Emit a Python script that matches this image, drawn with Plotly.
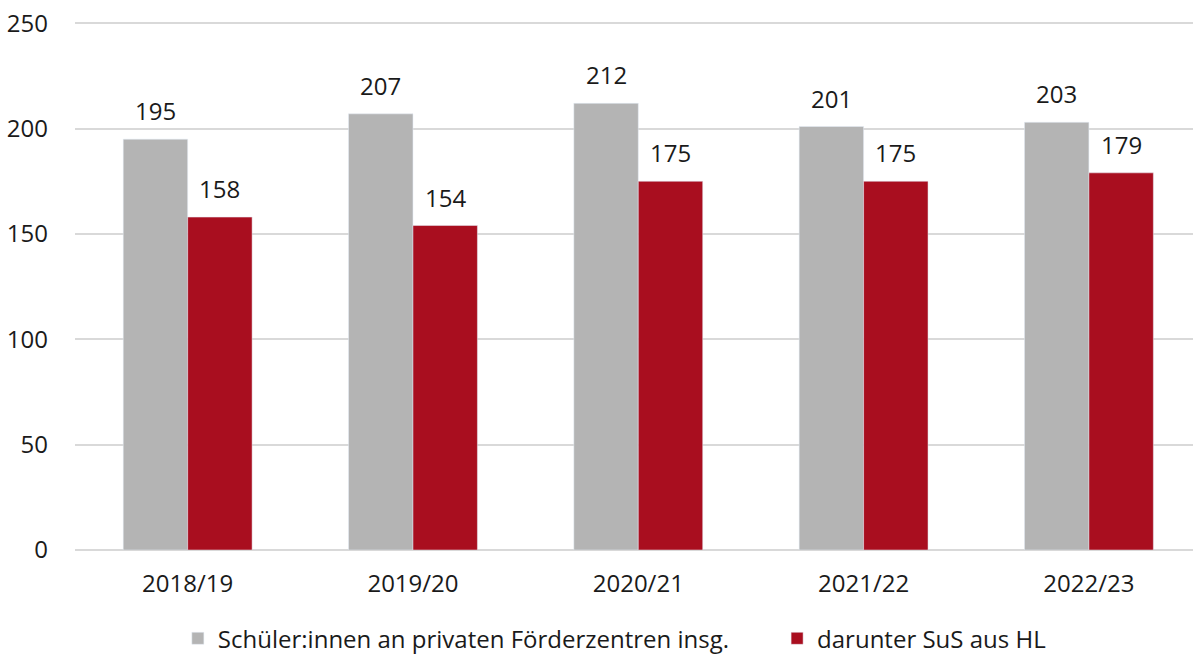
import plotly.graph_objects as go

categories = ["2018/19", "2019/20", "2020/21", "2021/22", "2022/23"]
total = [195, 207, 212, 201, 203]
hl = [158, 154, 175, 175, 179]
series_names = ["Schüler:innen an privaten Förderzentren insg.", "darunter SuS aus HL"]
y_ticks = [0, 50, 100, 150, 200, 250]

FONT = "Open Sans"
TXT = "#1a1a1a"
FS = 24

fig = go.Figure()
fig.add_trace(go.Bar(x=categories, y=total, name=series_names[0], marker_color="#b4b4b4",
                     offsetgroup="a", legend="legend"))
fig.add_trace(go.Bar(x=categories, y=hl, name=series_names[1], marker_color="#a90e1f",
                     offsetgroup="b", legend="legend2"))

# value labels above bars
BAR_PX = 64.5
for vals, shift in ((total, -BAR_PX / 2), (hl, BAR_PX / 2)):
    for c, v in zip(categories, vals):
        fig.add_annotation(x=c, y=v, text=str(v), showarrow=False, xshift=shift,
                           yshift=10, yanchor="bottom",
                           font=dict(size=FS, color=TXT, family=FONT))

leg_common = dict(orientation="h", xanchor="left", y=-0.168, yanchor="middle",
                  font=dict(size=FS, color=TXT, family=FONT), itemwidth=30,
                  bgcolor="rgba(0,0,0,0)")

fig.update_layout(
    width=1193, height=654,
    margin=dict(l=75, r=0, t=22, b=104, autoexpand=False),
    paper_bgcolor="white", plot_bgcolor="white",
    font=dict(family=FONT, size=FS, color=TXT),
    barmode="group", bargap=0.428, bargroupgap=0,
    showlegend=True,
    legend=dict(x=0.092, **leg_common),
    legend2=dict(x=0.628, **leg_common),
)
fig.update_xaxes(range=[-0.5, 4.462], showgrid=False, showline=False, ticks="",
                 tickfont=dict(size=FS, color=TXT), ticklabelstandoff=17, automargin=False)
fig.update_yaxes(range=[0, 250.6], tickvals=y_ticks, showgrid=True, gridcolor="#d9d9d9",
                 gridwidth=2, zeroline=True, zerolinecolor="#d9d9d9", zerolinewidth=2,
                 showline=False, ticks="", tickfont=dict(size=FS, color=TXT),
                 ticklabelstandoff=26, automargin=False)

fig.write_html("out.html", post_script="document.body.style.margin='0';",
               config={"displayModeBar": False})
